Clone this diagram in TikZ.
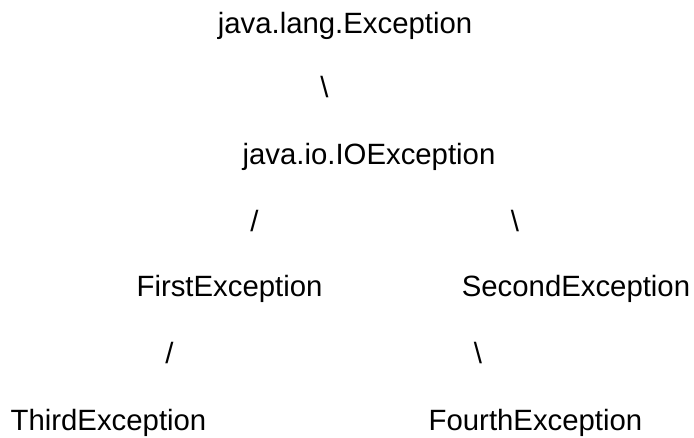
\documentclass[tikz,border=0pt]{standalone}
\usepackage{fontspec}
\setmainfont{Liberation Sans}
\begin{document}
\begin{tikzpicture}[x=0.75pt,y=-0.75pt,
    every node/.style={inner sep=0pt,anchor=base,font=\fontsize{22}{26}\selectfont}]
      \useasboundingbox (0,0) rectangle (694,438);

      \node (exc) at (345,34) {java.lang.Exception};
      \node (s1) at (324.5,98) {\textbackslash};

      \node (ioexc) at (369,165) {java.io.IOException};
      \node (s2) at (254.5,232) {/};
      \node (s3) at (515,232) {\textbackslash};

      \node (first) at (229.5,297) {FirstException};
      \node (second) at (576,297) {SecondException};

      \node (s4) at (169.5,364) {/};
      \node (s5) at (478,364) {\textbackslash};

      \node (third) at (108.5,431) {ThirdException};
      \node (fourth) at (535.5,431) {FourthException};
    \end{tikzpicture}
\end{document}
